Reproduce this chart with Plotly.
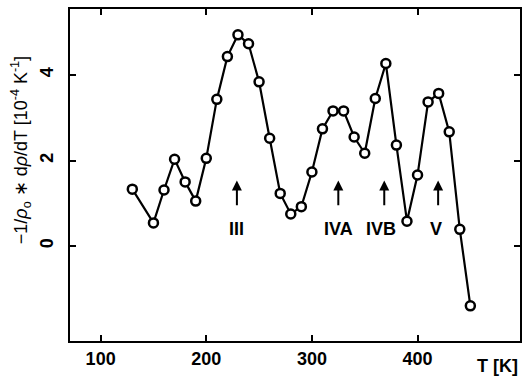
import plotly.graph_objects as go

T = [130, 150, 160, 170, 180, 190, 200, 210, 220, 230, 240, 250, 260, 270, 280, 290,
     300, 310, 320, 330, 340, 350, 360, 370, 380, 390, 400, 410, 420, 430, 440, 450]
vals = [1.33, 0.54, 1.31, 2.03, 1.50, 1.05, 2.05, 3.43, 4.43, 4.94, 4.73, 3.84, 2.52, 1.23, 0.75, 0.92,
        1.73, 2.74, 3.16, 3.16, 2.55, 2.17, 3.45, 4.27, 2.36, 0.58, 1.66, 3.37, 3.57, 2.67, 0.39, -1.40]

arrow_T = [229, 325, 368.5, 419.5]
arrow_labels = ["III", "IVA", "IVB", "V"]
label_T = [228.5, 325.5, 365.5, 417.5]
arrow_tip = 1.53
arrow_base = 0.92
label_y = 0.40

xtick_vals = [100, 200, 300, 400]
ytick_vals = [0, 2, 4]

FONT = "Liberation Sans, Arial, sans-serif"

fig = go.Figure()
fig.add_trace(go.Scatter(
    x=T, y=vals, mode="lines+markers",
    line=dict(color="black", width=2.2),
    marker=dict(size=9, color="white", line=dict(color="black", width=2.5)),
    showlegend=False, cliponaxis=False,
))

ann = []
for t in arrow_T:
    ann.append(dict(x=t, y=arrow_tip, ax=t, ay=arrow_base, xref="x", yref="y", axref="x", ayref="y",
                    showarrow=True, arrowhead=2, arrowsize=1.0, arrowwidth=2, arrowcolor="black", text=""))
for t, lab in zip(label_T, arrow_labels):
    ann.append(dict(x=t, y=label_y, xref="x", yref="y", text="<b>%s</b>" % lab, showarrow=False,
                    font=dict(family=FONT, size=18, color="black")))
ann.append(dict(x=522, y=366, xref="paper", yref="paper", text="<b>T [K]</b>", showarrow=False,
                xanchor="right", yanchor="middle", font=dict(family=FONT, size=18, color="black")))
ann.append(dict(x=21, y=150, xref="paper", yref="paper",
                text="−1/<i>ρ</i><sub>o</sub> ∗ d<i>ρ</i>/dT [10<sup>-4</sup> K<sup>-1</sup>]",
                showarrow=False, textangle=-90, xanchor="center", yanchor="middle",
                font=dict(family=FONT, size=18, color="#000000")))
# convert pixel positions for paper annotations
W, H = 525, 382
ml, mr, mt, mb = 70, 3, 9, 41
pw, ph = W - ml - mr, H - mt - mb
for a in ann:
    if a.get("xref") == "paper":
        a["x"] = (a["x"] - ml) / pw
        a["y"] = 1 - (a["y"] - mt) / ph

fig.update_layout(
    width=W, height=H,
    margin=dict(l=ml, r=mr, t=mt, b=mb),
    paper_bgcolor="white", plot_bgcolor="white",
    annotations=ann,
    font=dict(family=FONT, size=18, color="black"),
)
fig.update_xaxes(range=[71, 497], tickvals=xtick_vals, ticktext=["<b>%d</b>" % v for v in xtick_vals],
                 ticks="inside", ticklen=6, tickwidth=2, tickcolor="black",
                 showline=True, linecolor="black", linewidth=2, mirror="ticks",
                 showgrid=False, zeroline=False, tickfont=dict(family=FONT, size=18))
fig.update_yaxes(range=[-2.222, 5.544], tickvals=ytick_vals, ticktext=["<b>%d</b>" % v for v in ytick_vals],
                 ticks="inside", ticklen=6, tickwidth=2, tickcolor="black", tickangle=-90,
                 ticklabelstandoff=8,
                 showline=True, linecolor="black", linewidth=2, mirror="ticks",
                 showgrid=False, zeroline=False, tickfont=dict(family=FONT, size=18))

fig.write_html("out.html")
